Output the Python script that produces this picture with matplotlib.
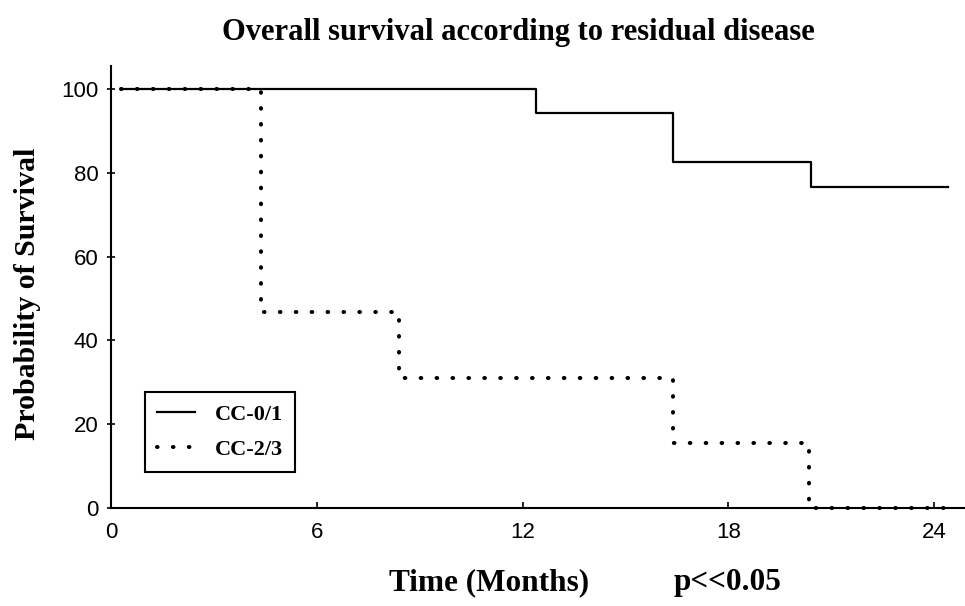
import matplotlib
matplotlib.use("Agg")
import matplotlib.pyplot as plt

# Kaplan-Meier steps (months, % surviving)
cc01_time = [0.3, 12.4, 16.4, 20.4, 24.4]
cc01_surv = [100, 94.4, 82.6, 76.7, 76.7]
cc23_time = [0.3, 4.37, 8.4, 16.4, 20.35, 24.7]
cc23_surv = [100, 46.7, 31.1, 15.6, 0, 0]

xticks = [0, 6, 12, 18, 24]
yticks = [0, 20, 40, 60, 80, 100]

serif = "Liberation Serif"
sans = "Liberation Sans"

fig = plt.figure(figsize=(9.65, 6.06), dpi=100)
ax = fig.add_axes([0.115, 0.162, 0.885, 0.729])

ax.plot(cc01_time, cc01_surv, drawstyle="steps-post", color="black", lw=1.6, label="CC-0/1")
ax.plot(cc23_time, cc23_surv, drawstyle="steps-post", color="black", lw=2.9,
        linestyle=(0, (0.15, 3.8)), dash_capstyle="round", label="CC-2/3",
        clip_on=False, zorder=5)

ax.set_xlim(0, 24.9)
ax.set_ylim(0, 105.5)
ax.set_xticks(xticks)
ax.set_yticks(yticks)
ax.spines["top"].set_visible(False)
ax.spines["right"].set_visible(False)
for s in ("left", "bottom"):
    ax.spines[s].set_linewidth(1.5)
ax.tick_params(axis="x", direction="in", length=4, width=1.2, pad=10)
ax.tick_params(axis="y", direction="inout", length=6, width=1.2, pad=6)
for lab in ax.get_xticklabels() + ax.get_yticklabels():
    lab.set_fontfamily(sans)
    lab.set_fontsize(16)

leg = ax.legend(loc="lower left", bbox_to_anchor=(0.04, 0.081), borderaxespad=0,
                fancybox=False, edgecolor="black", framealpha=1,
                prop={"family": serif, "weight": "bold", "size": 16},
                handlelength=1.7, handletextpad=0.9, borderpad=0.55, labelspacing=0.65)
leg.get_frame().set_linewidth(1.5)

fig.text(0.537, 0.947, "Overall survival according to residual disease", ha="center", va="center",
         fontfamily=serif, fontweight="bold", fontsize=22)
fig.text(0.029, 0.515, "Probability of Survival", rotation=90, ha="center", va="center",
         fontfamily=serif, fontweight="bold", fontsize=21.5)
fig.text(0.507, 0.038, "Time (Months)", ha="center", va="center",
         fontfamily=serif, fontweight="bold", fontsize=22.5)
fig.text(0.754, 0.038, "p<<0.05", ha="center", va="center",
         fontfamily=serif, fontweight="bold", fontsize=22.5)

fig.savefig("out.png", dpi=100)
